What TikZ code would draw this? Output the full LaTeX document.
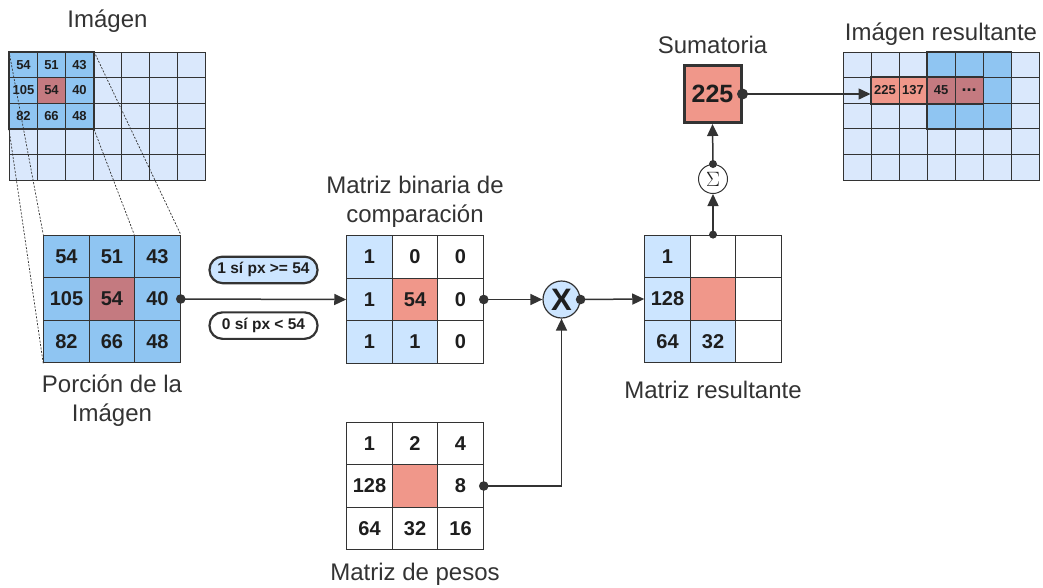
\documentclass[tikz,border=0pt]{standalone}
\usepackage{fontspec}
\setmainfont{Liberation Sans}
\usetikzlibrary{matrix,positioning,arrows.meta}

\definecolor{lineC}{HTML}{333333}
\definecolor{textC}{HTML}{1E1E1E}
\definecolor{paleBlue}{HTML}{DAE8FC}
\definecolor{winBlue}{HTML}{8FC5F2}
\definecolor{oneBlue}{HTML}{CCE5FF}
\definecolor{salmon}{HTML}{F0978A}
\definecolor{mauve}{HTML}{C47A80}

\begin{document}
\begin{tikzpicture}[x=1pt, y=-1pt,
    cell/.style={draw=lineC, line width=1pt, fill=white, text=textC, anchor=center,
      minimum width=45.5pt, minimum height=42.6pt, inner sep=0pt,
      font=\fontsize{20}{20}\selectfont\bfseries},
    pix/.style={cell, fill=paleBlue, minimum width=28pt, minimum height=25.6pt,
      font=\fontsize{13}{13}\selectfont\bfseries},
    cellgrid/.style={matrix of nodes, nodes in empty cells, column sep=-1pt, row sep=-1pt},
    inwin/.style={fill=winBlue},
    ctr/.style={fill=mauve},
    hot/.style={fill=salmon},
    ones/.style={fill=oneBlue},
    title/.style={text=lineC, font=\fontsize{24}{29}\selectfont, align=center, inner sep=0pt},
    pill/.style={draw=lineC, line width=2.2pt, rounded corners=13pt, text=textC,
      minimum width=108pt, minimum height=26.5pt, inner sep=0pt,
      font=\fontsize{15.5}{15.5}\selectfont\bfseries},
    conn/.style={draw=lineC, line width=1.5pt, -{Triangle[length=12pt,width=11pt]}},
    win/.style={draw=lineC, line width=1.6pt},
    zoomline/.style={draw=lineC, line width=0.7pt, dash pattern=on 2pt off 1.5pt}]

    \useasboundingbox (0,0) rectangle (1043,587);

    % Imagen de entrada
    \matrix (img) [cellgrid, nodes={pix}] at (107.5,116) {
      |[inwin]| 54 & |[inwin]| 51 & |[inwin]| 43 & & & & \\
      |[inwin]| 105 & |[ctr]| 54 & |[inwin]| 40 & & & & \\
      |[inwin]| 82 & |[inwin]| 66 & |[inwin]| 48 & & & & \\
      & & & & & & \\
      & & & & & & \\
    };
    \draw[win] (img-1-1.north west) rectangle (img-3-3.south east);
    \node[title, above=15.5pt of img] (imgT) {Imágen};

    % Porcion de la imagen
    \matrix (por) [cellgrid, nodes={cell, inwin}] at (112,299) {
      54 & 51 & 43 \\
      105 & |[ctr]| 54 & 40 \\
      82 & 66 & 48 \\
    };
    \node[title, below=8pt of por] (porT) {Porción de la\\Imágen};

    % Lineas de ampliacion
    \draw[zoomline] (img-1-1.north west) -- (por-1-1.north west);
    \draw[zoomline] (img-3-1.south west) -- (por-3-1.south west);
    \draw[zoomline] (img-1-3.north east) -- (por-1-3.north east);
    \draw[zoomline] (img-3-3.south east) -- (por-1-3.north west);

    % Matriz binaria
    \matrix (bin) [cellgrid, nodes={cell}] at (415,299.5) {
      |[ones]| 1 & 0 & 0 \\
      |[ones]| 1 & |[hot]| 54 & 0 \\
      |[ones]| 1 & |[ones]| 1 & 0 \\
    };
    \node[title, above=3.5pt of bin] (binT) {Matriz binaria de\\comparación};

    % Matriz de pesos
    \matrix (pes) [cellgrid, nodes={cell}] at (415,486) {
      1 & 2 & 4 \\
      128 & |[hot]| & 8 \\
      64 & 32 & 16 \\
    };
    \node[title, below=9pt of pes] (pesT) {Matriz de pesos};

    % Matriz resultante
    \matrix (res) [cellgrid, nodes={cell}] at (713,299) {
      |[ones]| 1 & & \\
      |[ones]| 128 & |[hot]| & \\
      |[ones]| 64 & |[ones]| 32 & \\
    };
    \node[title, below=14pt of res] (resT) {Matriz resultante};

    % Operadores
    \node[circle, draw=lineC, line width=1.2pt, fill=oneBlue, minimum size=37pt, inner sep=0pt,
      text=textC, font=\fontsize{31}{31}\selectfont\bfseries] (mul) at (561.5,299.5) {X};
    \node[circle, draw=lineC, line width=1pt, fill=white, minimum size=29pt, inner sep=0pt,
      text=textC, font=\fontsize{21}{21}\selectfont] (sig) at (713,179) {$\Sigma$};

    % Sumatoria
    \node[draw=lineC, line width=3pt, fill=salmon, minimum width=57pt, minimum height=57pt,
      text=textC, font=\fontsize{25}{25}\selectfont\bfseries] (sum) at (712.5,94) {225};
    \node[title, above=10pt of sum] (sumT) {Sumatoria};

    % Imagen resultante
    \matrix (out) [cellgrid, nodes={pix}] at (941,116) {
      & & & |[inwin]| & |[inwin]| & |[inwin]| & \\
      & |[hot]| 225 & |[hot]| 137 & |[ctr]| 45 & |[ctr, font=\fontsize{18}{18}\selectfont\bfseries]| ... & |[inwin]| & \\
      & & & |[inwin]| & |[inwin]| & |[inwin]| & \\
      & & & & & & \\
      & & & & & & \\
    };
    \draw[win] (out-1-4.north west) rectangle (out-3-6.south east);
    \draw[win] (out-2-2.north west) rectangle (out-2-5.south east);
    \node[title, above=2.5pt of out] (outT) {Imágen resultante};

    % Conexiones
    \draw[conn] (por-2-3.east) -- node[pill, fill=oneBlue, above=15pt] {1 sí px >= 54}
      node[pill, fill=white, below=12pt] {0 sí px < 54} (bin-2-1.west);
    \fill[lineC] (por-2-3.east) circle (4.8pt);
    \draw[conn] (bin-2-3.east) -- (mul.west);
    \fill[lineC] (bin-2-3.east) circle (4.8pt);
    \draw[conn] (pes-2-3.east) -| (mul.south);
    \fill[lineC] (pes-2-3.east) circle (4.8pt);
    \draw[conn] (mul.east) -- (res-2-1.west);
    \fill[lineC] (mul.east) circle (4.8pt);
    \draw[conn] (res-1-2.north) -- (sig.south);
    \fill[lineC] (res-1-2.north) circle (4pt);
    \draw[conn] (sig.north) -- (sum.south);
    \fill[lineC] (sig.north) circle (4pt);
    \draw[conn] (sum.east) -- (sum.east -| out-2-2.west);
    \fill[lineC] (sum.east) circle (5.5pt);
\end{tikzpicture}
\end{document}
